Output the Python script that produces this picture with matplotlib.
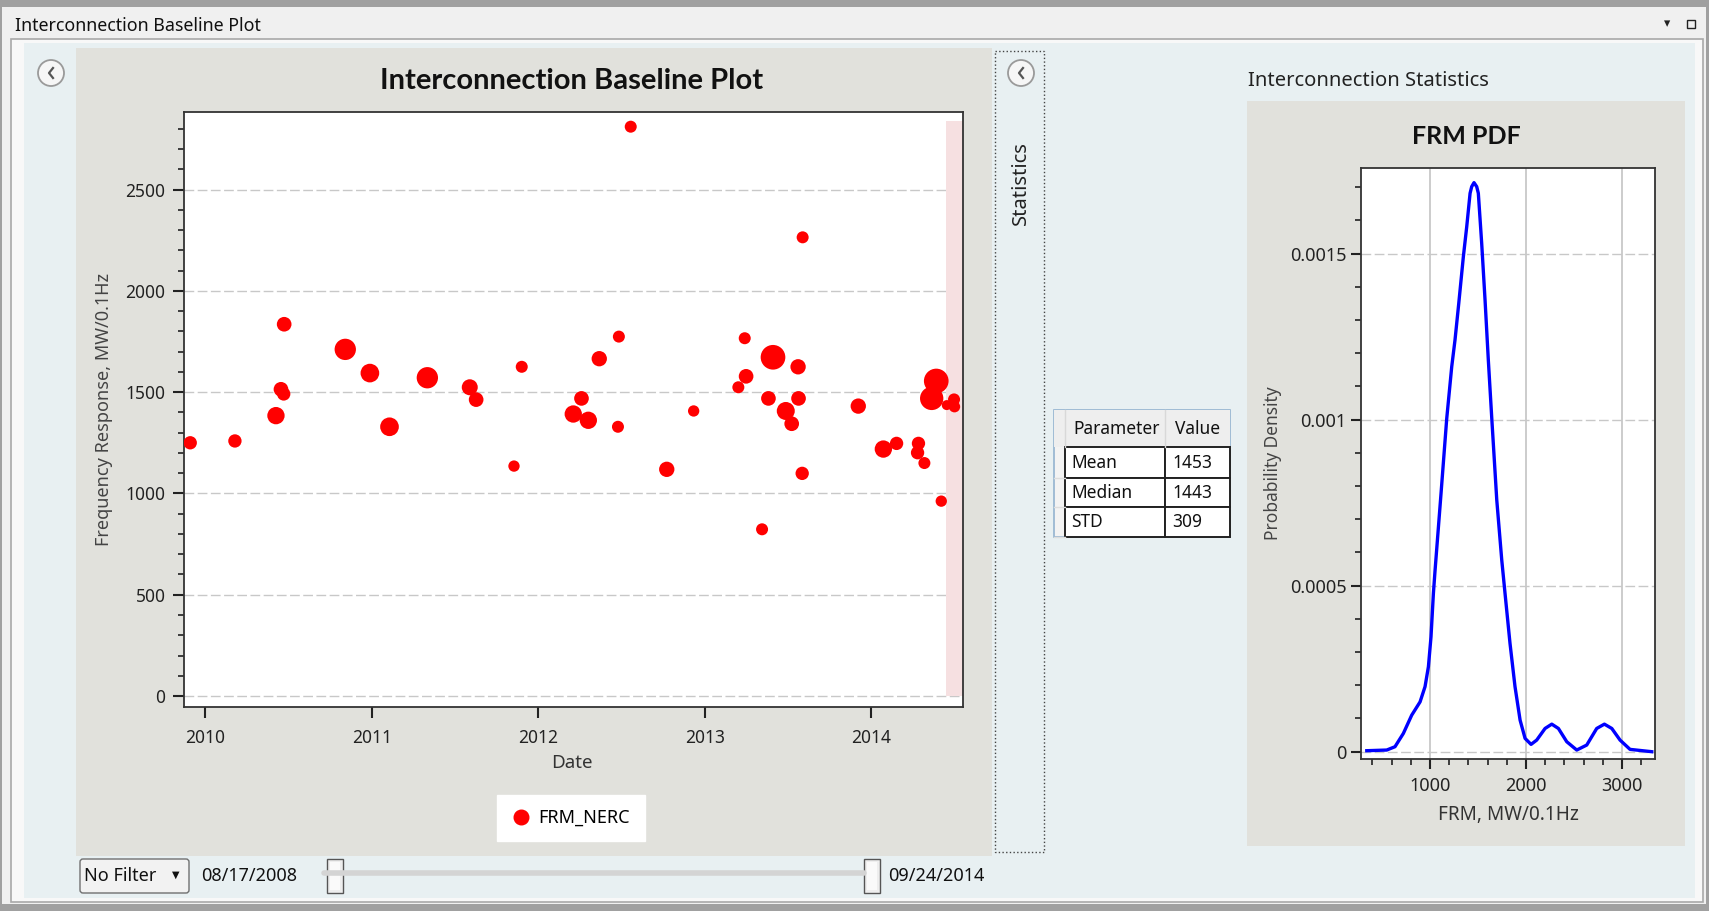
import numpy as np
import pandas as pd
import matplotlib
matplotlib.use('Agg')
import matplotlib.pyplot as plt
import matplotlib.dates as mdates
from matplotlib.patches import Rectangle, Circle, FancyBboxPatch
from matplotlib.lines import Line2D
from matplotlib.ticker import MultipleLocator, FuncFormatter

plt.rcParams['font.family'] = ['Noto Sans', 'DejaVu Sans']
BOLD = ['Lato', 'DejaVu Sans']

W, H = 1709, 911

# FRM events (date, MW/0.1Hz, relative bubble magnitude)
frm_dates = ['2009-11-29', '2010-03-07', '2010-06-05', '2010-06-16', '2010-06-22',
             '2010-06-23', '2010-11-04', '2010-12-28', '2011-02-09', '2011-05-03',
             '2011-08-04', '2011-08-18', '2011-11-09', '2011-11-26', '2012-03-18',
             '2012-04-05', '2012-04-20', '2012-05-14', '2012-06-26', '2012-06-24',
             '2012-07-22', '2012-10-09', '2012-12-07', '2013-03-15', '2013-03-29',
             '2013-04-01', '2013-05-06', '2013-05-20', '2013-05-30', '2013-06-27',
             '2013-07-10', '2013-07-24', '2013-07-25', '2013-08-02', '2013-08-03',
             '2013-12-03', '2014-01-27', '2014-02-25', '2014-04-12', '2014-04-14',
             '2014-04-27', '2014-05-13', '2014-05-23', '2014-06-03', '2014-06-15',
             '2014-07-01', '2014-07-02']
frm_values = [1250, 1259, 1384, 1514, 1491,
              1835, 1711, 1594, 1329, 1571,
              1524, 1463, 1135, 1625, 1392,
              1469, 1361, 1665, 1774, 1329,
              2810, 1119, 1407, 1524, 1766,
              1578, 823, 1469, 1672, 1407,
              1344, 1625, 1469, 1099, 2264,
              1431, 1219, 1247, 1201, 1247,
              1150, 1469, 1555, 962, 1436,
              1464, 1428]
frm_mag = [20, 20, 26, 22, 20,
           22, 32, 28, 28, 32,
           24, 22, 17, 18, 26,
           22, 26, 23, 18, 18,
           18, 23, 17, 18, 18,
           22, 18, 22, 37, 27,
           22, 23, 22, 20, 18,
           23, 26, 20, 20, 20,
           18, 35, 37, 17, 15,
           18, 17]

# PDF curve
pdf_x = [341, 549, 635, 722, 809, 896, 948, 983, 1010, 1035, 1052, 1115, 1174, 1226,
         1260, 1299, 1347, 1382, 1417, 1434, 1458, 1486, 1503, 1538, 1573, 1607, 1643,
         1695, 1747, 1781, 1833, 1885, 1938, 1990, 2052, 2111, 2198, 2268, 2337, 2424,
         2528, 2632, 2736, 2816, 2893, 2979, 3083, 3309]
pdf_y = [0.000003, 0.000005, 0.000015, 0.000055, 0.00011, 0.00015, 0.000196, 0.000256,
         0.000346, 0.000477, 0.000545, 0.00078, 0.001004, 0.00116, 0.00124, 0.00135,
         0.001491, 0.001581, 0.001682, 0.001702, 0.001714, 0.001702, 0.001682, 0.001531,
         0.00136, 0.00118, 0.001004, 0.000758, 0.000577, 0.000477, 0.000326, 0.000196,
         0.000095, 0.00004, 0.000022, 0.000035, 0.00007, 0.000083, 0.00007, 0.00003,
         0.000005, 0.00002, 0.00007, 0.000083, 0.00007, 0.000035, 0.000007, 0.0]

stat_params = ['Mean', 'Median', 'STD']
stat_values = ['1453', '1443', '309']

date_from = '08/17/2008'
date_to = '09/24/2014'
selected_start = '2014-06-13'
selected_top = 2840


def rect(x0, y0, x1, y1):
    return [x0 / W, 1 - y1 / H, (x1 - x0) / W, (y1 - y0) / H]


def box(ax, x0, y0, x1, y1, **kw):
    ax.add_patch(Rectangle((x0, y0), x1 - x0, y1 - y0, **kw))


def back_button(ax, cx, cy):
    ax.add_patch(Circle((cx, cy), 13, facecolor='#f6f6f6', edgecolor='#9a9a9a', lw=1.3))
    ax.plot([cx + 2, cx - 2, cx + 2], [cy - 5, cy, cy + 5], color='#555555', lw=1.6)


fig = plt.figure(figsize=(W / 100, H / 100), dpi=100)
bg = fig.add_axes([0, 0, 1, 1])
bg.set_xlim(0, W)
bg.set_ylim(H, 0)
bg.axis('off')

# window chrome
box(bg, 0, 0, W, H, facecolor='#f0f0f0', edgecolor='none')
box(bg, 0, 0, W, 7, facecolor='#a0a0a0', edgecolor='none')
box(bg, 0, 904, W, H, facecolor='#a0a0a0', edgecolor='none')
box(bg, 0, 0, 2, H, facecolor='#a0a0a0', edgecolor='none')
box(bg, W - 3, 0, W, H, facecolor='#a0a0a0', edgecolor='none')
bg.text(15, 26, 'Interconnection Baseline Plot', fontsize=12.8, va='center', color='#111111')
bg.text(1667, 24, '\u25be', fontsize=9, ha='center', va='center', color='#222222')
box(bg, 1687, 20, 1695, 28, facecolor='none', edgecolor='#222222', lw=1)
box(bg, 11, 39, 1703, 902, facecolor='#f8f8f8', edgecolor='#a8a8a8', lw=1.2)
box(bg, 24, 43, 1695, 898, facecolor='#e8f0f2', edgecolor='none')

# left panel
box(bg, 76, 48, 992, 856, facecolor='#e1e1dc', edgecolor='none')
back_button(bg, 51, 73)
bg.text(572, 81, 'Interconnection Baseline Plot', fontsize=21, weight='bold',
        family=BOLD, ha='center', va='center', color='#111111')

# collapsed statistics column
box(bg, 995, 51, 1044, 852, facecolor='none', edgecolor='#444444', lw=1, linestyle=':')
back_button(bg, 1021, 73)
bg.text(1021, 183, 'Statistics', rotation=90, fontsize=14.5, ha='center', va='center',
        color='#222222')

# right panel
bg.text(1248, 81, 'Interconnection Statistics', fontsize=14.5, va='center', color='#222222')
box(bg, 1247, 101, 1685, 846, facecolor='#e1e1dc', edgecolor='none')
bg.text(1466, 136, 'FRM PDF', fontsize=18, weight='bold', family=BOLD,
        ha='center', va='center', color='#111111')

# statistics table
tx0, tx1, tx2, tx3 = 1054, 1065, 1165, 1230
row_edges = [410, 447, 478, 507, 537]
box(bg, tx0, row_edges[0], tx3, row_edges[-1], facecolor='#f3f3f3', edgecolor='#93b3d0', lw=1.2)
box(bg, tx0, row_edges[0], tx3, row_edges[1], facecolor='#eeeeee', edgecolor='none')
bg.plot([tx1, tx1], [row_edges[0], row_edges[1]], color='#d8d8d8', lw=1)
bg.plot([tx2, tx2], [row_edges[0], row_edges[1]], color='#d8d8d8', lw=1)
bg.text(1073, 429, 'Parameter', fontsize=12.5, va='center', color='#111111')
bg.text(1175, 429, 'Value', fontsize=12.5, va='center', color='#111111')
for i, (p, v) in enumerate(zip(stat_params, stat_values)):
    y0, y1 = row_edges[i + 1], row_edges[i + 2]
    box(bg, tx1, y0, tx2, y1, facecolor='white', edgecolor='#222222', lw=1.4)
    box(bg, tx2, y0, tx3, y1, facecolor='white', edgecolor='#222222', lw=1.4)
    bg.plot([tx0, tx1], [y1, y1], color='#dddddd', lw=1)
    bg.text(1071, (y0 + y1) / 2, p, fontsize=12.5, va='center', color='#111111')
    bg.text(1172, (y0 + y1) / 2, v, fontsize=12.5, va='center', color='#111111')

# bottom controls
bg.add_patch(FancyBboxPatch((80, 859), 109, 34, boxstyle='round,pad=0,rounding_size=3',
                            facecolor='#f2f2f2', edgecolor='#707070', lw=1))
bg.text(84, 876, 'No Filter', fontsize=13, va='center', color='#111111')
bg.text(176, 875, '\u25bc', fontsize=7, ha='center', va='center', color='#111111')
bg.text(201, 876, date_from, fontsize=13, va='center', color='#111111')
bg.plot([324, 864], [873, 873], color='#d4d4d4', lw=4, solid_capstyle='round')
for sx in (327, 864):
    box(bg, sx, 859, sx + 16, 893, facecolor='#eeeeee', edgecolor='#555555', lw=1)
    box(bg, sx + 3, 862, sx + 13, 890, facecolor='#fafafa', edgecolor='none')
bg.text(888, 876, date_to, fontsize=13, va='center', color='#111111')

# ---- scatter plot ----
dates = pd.to_datetime(frm_dates)
ax = fig.add_axes(rect(184.3, 111.7, 962.7, 707))
ax.set_facecolor('white')
ax.set_xlim(mdates.date2num(pd.Timestamp('2009-11-16')), mdates.date2num(pd.Timestamp('2014-07-20')))
ax.set_ylim(-54, 2884)
band_x0 = mdates.date2num(pd.Timestamp(selected_start))
ax.add_patch(Rectangle((band_x0, 0), ax.get_xlim()[1] - band_x0, selected_top,
                       facecolor='#f6e0e1', edgecolor='none', zorder=1))
ax.scatter(mdates.date2num(dates), frm_values, s=(0.48 * np.array(frm_mag)) ** 2,
           color='#ff0000', edgecolors='none', zorder=3)
ax.yaxis.grid(True, linestyle=(0, (7, 2.5)), color='#c8c8c8', lw=1)
ax.set_axisbelow(True)
ax.yaxis.set_major_locator(MultipleLocator(500))
ax.yaxis.set_minor_locator(MultipleLocator(100))
ax.xaxis.set_major_locator(mdates.YearLocator())
ax.xaxis.set_major_formatter(mdates.DateFormatter('%Y'))
ax.tick_params(which='major', direction='out', length=8, width=1.5, labelsize=12.5,
               colors='#222222')
ax.tick_params(axis='y', which='major', pad=5.5)
ax.tick_params(axis='x', which='major', pad=8)
ax.tick_params(which='minor', direction='out', length=4.5, width=1.2, colors='#222222')
for s in ax.spines.values():
    s.set_linewidth(1.3)
    s.set_color('#333333')
ax.set_ylabel('Frequency Response, MW/0.1Hz', fontsize=13, color='#444444')
ax.yaxis.set_label_coords(-0.0916, 0.5)
ax.set_xlabel('Date', fontsize=13.5, color='#333333')
ax.xaxis.set_label_coords(0.498, -0.094)
ax.xaxis.label.set_va('center')

handle = Line2D([], [], marker='o', color='#ff0000', linestyle='none', markersize=10.5)
fig.legend([handle], ['FRM_NERC'], loc='center', bbox_to_anchor=(571 / W, 1 - 818 / H),
           frameon=True, fancybox=False, facecolor='white', edgecolor='white',
           framealpha=1, fontsize=13, borderpad=0.8, handlelength=1.0,
           handletextpad=0.5, borderaxespad=0)

# ---- PDF plot ----
pax = fig.add_axes(rect(1361.3, 167.7, 1654.7, 759))
pax.set_facecolor('white')
pax.plot(pdf_x, pdf_y, color='#0000ff', lw=2.4, zorder=3, solid_joinstyle='round')
pax.set_xlim(284, 3340)
pax.set_ylim(-0.000022, 0.001759)
pax.xaxis.set_major_locator(MultipleLocator(1000))
pax.xaxis.set_minor_locator(MultipleLocator(200))
pax.yaxis.set_major_locator(MultipleLocator(0.0005))
pax.yaxis.set_minor_locator(MultipleLocator(0.0001))
pax.yaxis.set_major_formatter(FuncFormatter(lambda v, p: '%g' % round(v, 6)))
pax.xaxis.grid(True, color='#c4c4c4', lw=1.2)
pax.yaxis.grid(True, linestyle=(0, (7, 2.5)), color='#c8c8c8', lw=1)
pax.set_axisbelow(True)
pax.tick_params(which='major', direction='out', length=7, width=1.5, labelsize=13,
                colors='#222222')
pax.tick_params(axis='x', which='major', pad=6)
pax.tick_params(which='minor', direction='out', length=4, width=1.2, colors='#222222')
for s in pax.spines.values():
    s.set_linewidth(1.3)
    s.set_color('#333333')
pax.set_ylabel('Probability Density', fontsize=12.5, color='#444444')
pax.yaxis.set_label_coords(-0.271, 0.5)
pax.set_xlabel('FRM, MW/0.1Hz', fontsize=13.7, color='#333333')
pax.xaxis.set_label_coords(0.501, -0.0947)
pax.xaxis.label.set_va('center')

fig.savefig('out.png', dpi=100)
